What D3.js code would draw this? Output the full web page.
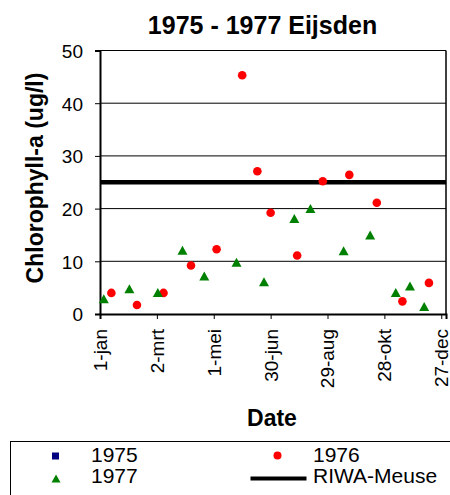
<!DOCTYPE html>
<html>
<head>
<meta charset="utf-8">
<script src="https://cdn.jsdelivr.net/npm/d3@7"></script>
<style>
  body { margin: 0; background: #fff; }
  text { font-family: Arial, 'Liberation Sans', sans-serif; fill: #000; }
</style>
</head>
<body>
<script>
  // day of year (1 = 1-jan) and chlorophyll-a values
  const days1975 = [];
  const vals1975 = [];

  const days1976 = [13, 40, 68, 97, 124, 151, 167, 181, 209, 236, 264, 293, 320, 348];
  const vals1976 = [4.0, 1.7, 4.0, 9.2, 12.3, 45.3, 27.1, 19.2, 11.1, 25.2, 26.4, 21.1, 2.4, 5.9];

  const days1977 = [5, 32, 62, 88, 111, 145, 174, 206, 223, 258, 286, 313, 328, 343];
  const vals1977 = [2.9, 4.8, 4.1, 12.1, 7.2, 9.8, 6.1, 18.1, 20.0, 12.0, 15.0, 4.1, 5.3, 1.4];

  const riwaDays = [1, 366];
  const riwaVals = [25, 25];

  const xTickDays = [1, 61, 121, 181, 241, 301, 361];
  const xTickLabels = ['1-jan', '2-mrt', '1-mei', '30-jun', '29-aug', '28-okt', '27-dec'];
  const yTicks = [0, 10, 20, 30, 40, 50];

  const width = 450;
  const height = 495;
  const plot = { left: 100, right: 446, top: 50.5, bottom: 314 };

  const svg = d3.select('body')
    .append('svg')
    .attr('width', width)
    .attr('height', height);

  const x = d3.scaleLinear().domain([1, 366]).range([plot.left, plot.right]);
  const y = d3.scaleLinear().domain([0, 50]).range([plot.bottom, plot.top]);

  const zip = (a, b) => a.map((d, i) => ({ day: d, value: b[i] }));

  // title
  svg.append('text')
    .attr('x', 262.5)
    .attr('y', 34)
    .attr('text-anchor', 'middle')
    .style('font-size', '25px')
    .style('font-weight', 'bold')
    .text('1975 - 1977 Eijsden');

  // gridlines
  svg.append('g')
    .selectAll('line')
    .data(yTicks.filter((d) => d > 0))
    .join('line')
    .attr('x1', plot.left)
    .attr('x2', plot.right)
    .attr('y1', (d) => y(d))
    .attr('y2', (d) => y(d))
    .attr('stroke', '#000')
    .attr('stroke-width', 1);

  // right border
  svg.append('line')
    .attr('x1', plot.right).attr('x2', plot.right)
    .attr('y1', plot.top).attr('y2', plot.bottom)
    .attr('stroke', '#000')
    .attr('stroke-width', 1.5);

  // y axis
  const yAxis = svg.append('g')
    .attr('transform', `translate(${plot.left},0)`)
    .call(d3.axisLeft(y).tickValues(yTicks).tickSize(5).tickPadding(12).tickFormat(d3.format('d')));
  yAxis.select('.domain').attr('stroke', '#000').attr('stroke-width', 2);
  yAxis.selectAll('.tick line').attr('stroke', '#000');
  yAxis.selectAll('.tick text')
    .style('font-size', '19px')
    .style('font-family', "Arial, 'Liberation Sans', sans-serif")
    .attr('dy', '0.36em');

  // x axis
  const xAxis = svg.append('g')
    .attr('transform', `translate(0,${plot.bottom})`)
    .call(d3.axisBottom(x).tickValues(xTickDays).tickSize(5).tickFormat((d, i) => xTickLabels[i]));
  xAxis.select('.domain').attr('stroke', '#000').attr('stroke-width', 2);
  xAxis.selectAll('.tick line').attr('stroke', '#000');
  xAxis.selectAll('.tick text')
    .style('font-size', '19px')
    .style('font-family', "Arial, 'Liberation Sans', sans-serif")
    .attr('text-anchor', 'end')
    .attr('transform', 'translate(0,15) rotate(-90)')
    .attr('x', 0)
    .attr('y', 0)
    .attr('dy', '0.34em');

  // axis titles
  svg.append('text')
    .attr('x', 272)
    .attr('y', 426)
    .attr('text-anchor', 'middle')
    .style('font-size', '23px')
    .style('font-weight', 'bold')
    .text('Date');

  svg.append('text')
    .attr('transform', 'translate(43,178) rotate(-90)')
    .attr('text-anchor', 'middle')
    .style('font-size', '23px')
    .style('font-weight', 'bold')
    .text('Chlorophyll-a (ug/l)');

  // RIWA-Meuse norm
  const line = d3.line().x((d) => x(d.day)).y((d) => y(d.value));
  svg.append('path')
    .datum(zip(riwaDays, riwaVals))
    .attr('d', line)
    .attr('fill', 'none')
    .attr('stroke', '#000')
    .attr('stroke-width', 4.5);

  // 1975 squares
  svg.append('g')
    .selectAll('rect')
    .data(zip(days1975, vals1975))
    .join('rect')
    .attr('x', (d) => x(d.day) - 3.5)
    .attr('y', (d) => y(d.value) - 3.5)
    .attr('width', 7)
    .attr('height', 7)
    .attr('fill', '#000080');

  // 1976 circles
  svg.append('g')
    .selectAll('circle')
    .data(zip(days1976, vals1976))
    .join('circle')
    .attr('cx', (d) => x(d.day))
    .attr('cy', (d) => y(d.value))
    .attr('r', 4.3)
    .attr('fill', '#ff0000');

  // 1977 triangles
  const tri = (cx, cy, w, h) =>
    `M${cx},${cy - h / 2}L${cx + w / 2},${cy + h / 2}L${cx - w / 2},${cy + h / 2}Z`;
  svg.append('g')
    .selectAll('path')
    .data(zip(days1977, vals1977))
    .join('path')
    .attr('d', (d) => tri(x(d.day), y(d.value), 10, 9))
    .attr('fill', '#008000');

  // legend
  const legend = svg.append('g');
  legend.append('rect')
    .attr('x', 10.5)
    .attr('y', 441.5)
    .attr('width', 460)
    .attr('height', 70)
    .attr('fill', '#fff')
    .attr('stroke', '#000')
    .attr('stroke-width', 1);

  legend.append('rect')
    .attr('x', 52).attr('y', 452.5)
    .attr('width', 7).attr('height', 7)
    .attr('fill', '#000080');
  legend.append('circle')
    .attr('cx', 277.5).attr('cy', 455.5).attr('r', 4)
    .attr('fill', '#ff0000');
  legend.append('path')
    .attr('d', tri(56, 478.5, 9, 8))
    .attr('fill', '#008000');
  legend.append('line')
    .attr('x1', 250.5).attr('x2', 306.5)
    .attr('y1', 478.5).attr('y2', 478.5)
    .attr('stroke', '#000')
    .attr('stroke-width', 4);

  const legendItems = [
    { label: '1975', x: 91, y: 461.5 },
    { label: '1976', x: 313, y: 462 },
    { label: '1977', x: 91, y: 483 },
    { label: 'RIWA-Meuse', x: 313, y: 483 },
  ];
  legend.selectAll('text')
    .data(legendItems)
    .join('text')
    .attr('x', (d) => d.x)
    .attr('y', (d) => d.y)
    .style('font-size', '21px')
    .text((d) => d.label);
</script>
</body>
</html>
